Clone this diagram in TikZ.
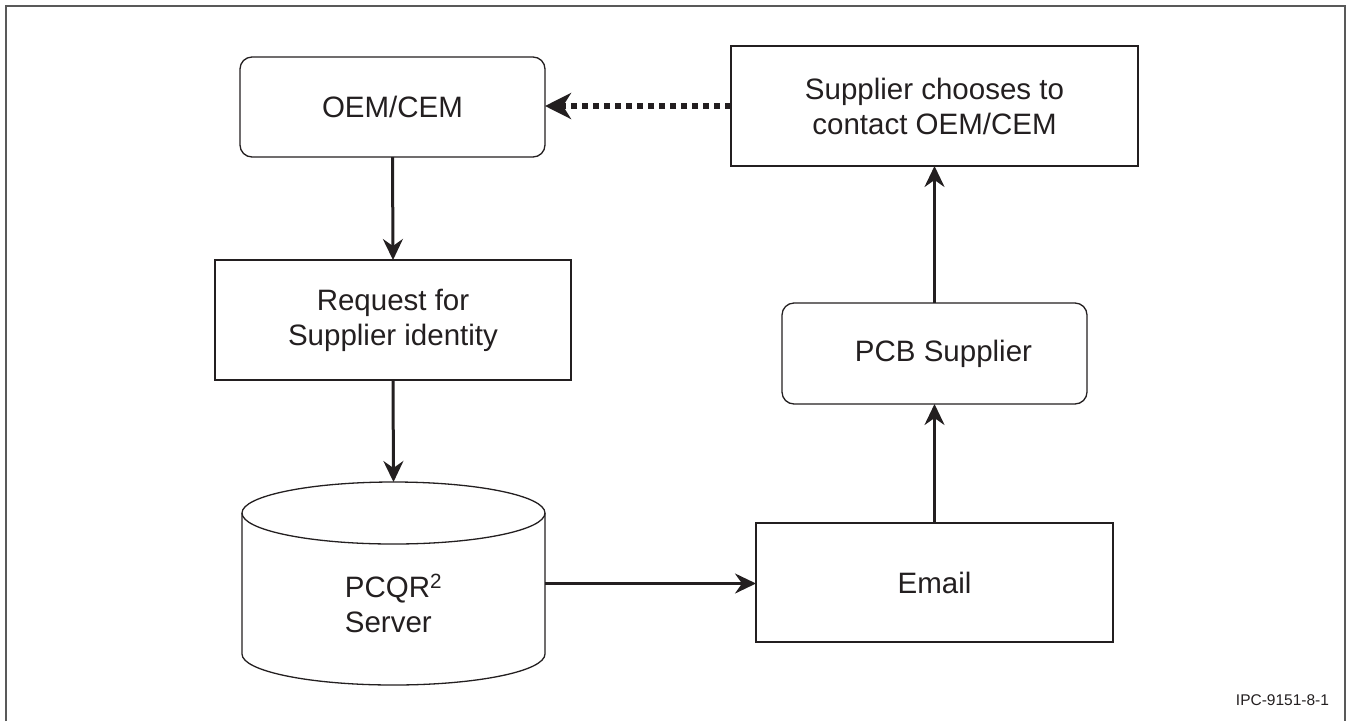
\documentclass[tikz,border=0pt]{standalone}
\usepackage{fontspec}
\setmainfont{Liberation Sans}
\usetikzlibrary{arrows.meta,calc}
\definecolor{ink}{HTML}{231F20}
\begin{document}
\begin{tikzpicture}[x=1pt,y=-1pt,
  every node/.style={inner sep=0pt, outer sep=0pt, text=ink,
    font=\fontsize{29.5}{35}\selectfont, align=center},
  boxline/.style={draw=ink, line width=1.3pt},
  plainbox/.style={boxline, rectangle},
  roundbox/.style={boxline, rectangle, rounded corners=12pt},
  flow/.style={draw=ink, line width=3pt,
    -{Stealth[length=21pt,width=20pt,inset=7pt]}},
  optional/.style={draw=ink, line width=6pt, dash pattern=on 6.5pt off 4.5pt,
    -{Stealth[length=26pt,width=26pt,inset=8pt]}},
  tag/.style={font=\fontsize{15.5}{18}\selectfont}]

\useasboundingbox (0,0) rectangle (1348,721);

% open frame (left, top, right)
\draw[gray!70!black, line width=2pt] (6,721) -- (6,6) -- (1345,6) -- (1345,721);

% left column
\node[roundbox, minimum width=305pt, minimum height=100pt] (oem) at (392.5,107) {OEM/CEM};
\node[plainbox, minimum width=356pt, minimum height=120pt] (req) at (393,320)
  {Request for\\Supplier identity};
\node[minimum width=303pt, minimum height=203pt] (srv) at (393.5,583.5) {};

% database cylinder
\draw[boxline] (393.5,513) ellipse [x radius=151.5, y radius=31];
\draw[boxline] (242,513) -- (242,654)
  arc[start angle=180, end angle=0, x radius=151.5, y radius=31] -- (545,513);
\node[align=left] (srvtext) at ($(srv.center)+(0,20)$) {PCQR\textsuperscript{2}\\Server};

% right column
\node[plainbox, minimum width=407pt, minimum height=120pt] (sup) at (934.5,106)
  {Supplier chooses to\\contact OEM/CEM};
\node[roundbox, minimum width=305pt, minimum height=101pt] (pcb) at (934.5,353.5)
  {\hspace*{18pt}PCB Supplier};
\node[plainbox, minimum width=357pt, minimum height=119pt] (email) at (934.5,582.5) {Email};

% connectors
\draw[flow] (oem.south) -- (req.north);
\draw[flow] (req.south) -- (srv.north);
\draw[flow] (srv.east) -- (srv.east -| email.west);
\draw[flow] (email.north) -- (pcb.south);
\draw[flow] (pcb.north) -- (sup.south);
\draw[optional] (sup.west) -- (sup.west -| oem.east);

% figure number
\node[tag, anchor=east] (fig) at (1329,700) {IPC-9151-8-1};
\end{tikzpicture}
\end{document}
